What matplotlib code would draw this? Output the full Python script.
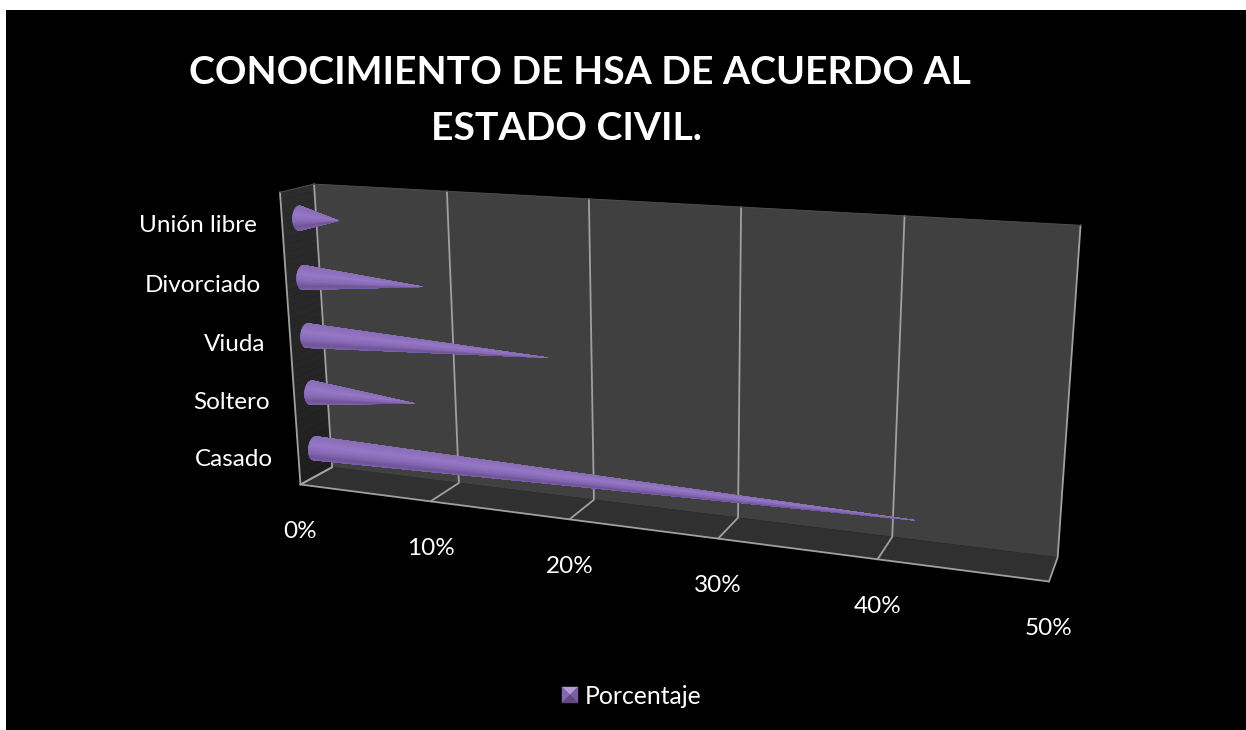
import numpy as np
import matplotlib
matplotlib.use("Agg")
import matplotlib.pyplot as plt
from matplotlib.collections import PolyCollection
from matplotlib.colors import LinearSegmentedColormap
from matplotlib.patches import Polygon, Rectangle

# ---- data -------------------------------------------------------------
categories = ["Casado", "Soltero", "Viuda", "Divorciado", "Unión libre"]
porcentaje = [41.7, 8.0, 17.8, 9.0, 3.0]
x_ticks = [0, 10, 20, 30, 40, 50]
title_lines = ["CONOCIMIENTO DE HSA DE ACUERDO AL", "ESTADO CIVIL."]
legend_label = "Porcentaje"

# ---- camera calibration: (value, height, depth) -> pixel ----------------
ANCHORS = [
    ((0, 0, 0), (332, 467)), ((50, 0, 0), (1058, 557)),
    ((50, 1, 0), (1081, 225)), ((0, 1, 0), (314, 184)),
    ((0, 0, 1), (300, 484)), ((0, 1, 1), (280, 192)),
    ((50, 0, 1), (1049, 581)),
    ((10, 1, 0), (447, 192)), ((20, 1, 0), (589, 199)),
    ((30, 1, 0), (741, 207)), ((40, 1, 0), (904, 216)),
    ((10, 0, 0), (459, 483)), ((40, 0, 0), (892, 537)),
    ((10, 0, 1), (431, 501)), ((20, 0, 1), (570, 520)),
    ((30, 0, 1), (718, 540)), ((40, 0, 1), (877, 559)),
]
rows = []
for (v, h, d), (px, py) in ANCHORS:
    X = [v / 50, h, d, 1]
    rows.append(X + [0, 0, 0, 0] + [-px * c for c in X])
    rows.append([0, 0, 0, 0] + X + [-py * c for c in X])
CAM = np.linalg.svd(np.array(rows, float))[2][-1].reshape(3, 4)


def project(v, h, d):
    v, h, d = np.broadcast_arrays(v, h, d)
    X = np.stack([v / 50, h, d, np.ones_like(v, dtype=float)], axis=-1)
    q = X @ CAM.T
    return np.stack([q[..., 0] / q[..., 2], q[..., 1] / q[..., 2]], axis=-1)


# ---- figure -------------------------------------------------------------
W, H = 1246, 730
plt.rcParams["font.family"] = ["Lato", "DejaVu Sans"]
fig = plt.figure(figsize=(W / 100, H / 100), dpi=100, facecolor="white")
ax = fig.add_axes([0, 0, 1, 1])
ax.set_xlim(0, W)
ax.set_ylim(H, 0)
ax.axis("off")
ax.add_patch(Rectangle((6, 10), W, H, fc="black", ec="none", zorder=0))

BACK = "#404040"
FLOOR = "#303030"
GRID = "#a0a0a0"
VMAX = x_ticks[-1]
LABEL_SIZE = 17.5


def quad(pts, color, z=1):
    ax.add_patch(Polygon(pts, closed=True, fc=color, ec=color, lw=0.3, zorder=z))


quad(project(np.array([0, VMAX, VMAX, 0]), np.array([0, 0, 1, 1]), 0), BACK)
# side wall darkens toward the floor
side_cmap = LinearSegmentedColormap.from_list(
    "side", [(0.0, "#1e1e1e"), (0.25, "#242424"), (1.0, "#2c2c2c")])
levels = np.linspace(0, 1, 41)
for a, b in zip(levels[:-1], levels[1:]):
    quad(project(0, np.array([a, b, b, a]), np.array([0, 0, 1, 1])),
         side_cmap((a + b) / 2))
quad(project(np.array([0, VMAX, VMAX, 0]), 0, np.array([0, 0, 1, 1])), FLOOR)


def line(pts, lw=1.3, z=2, color=GRID):
    ax.plot(pts[:, 0], pts[:, 1], color=color, lw=lw, zorder=z,
            solid_capstyle="round", solid_joinstyle="round")


for t in x_ticks:
    # gridline up the back wall and across the floor
    line(project(np.full(3, t), np.array([1, 0, 0]), np.array([0, 0, 1])))
# left wall front edge, floor edges
line(project(0, np.array([0, 1]), 1))
line(project(np.array([0, VMAX]), 0, 1))
line(project(0, 0, np.array([0, 1])))
# top edges are barely lighter than the walls
line(project(np.array([0, VMAX]), 1, 0), lw=0.8, color="#4a4a4a")
line(project(0, 1, np.array([0, 1])), lw=0.8, color="#4a4a4a")

for t in x_ticks:
    px, py = project(t, 0, 1)
    ax.text(px, py + 47, f"{t}%", color="white", fontsize=LABEL_SIZE,
            ha="center", va="center", zorder=5)

# ---- cones --------------------------------------------------------------
cone_cmap = LinearSegmentedColormap.from_list(
    "cone",
    [(0.0, "#8a6eb6"), (0.35, "#9678c8"), (0.6, "#8a6cb9"),
     (0.85, "#6f5598"), (1.0, "#7d62a8")],
)
R_H = 0.041      # cone base radius, wall-height units
R_D = 0.2        # same radius, depth units
MID = 0.5        # cones stand half-way through the depth
thetas = np.linspace(0, 2 * np.pi, 240, endpoint=False)

for i, (name, val) in enumerate(zip(categories, porcentaje)):
    h = (i + 0.5) / len(categories)
    tip = project(val, h, MID)
    rim = project(0, h + R_H * np.cos(thetas), MID + R_D * np.sin(thetas))
    next_rim = np.roll(rim, -1, axis=0)
    ys = rim[:, 1]
    shade = (ys - ys.min()) / (ys.max() - ys.min())
    order = np.argsort(np.sin(thetas))      # far side first
    polys = [np.array([tip, rim[k], next_rim[k]]) for k in order]
    cols = cone_cmap(shade[order])
    ax.add_collection(PolyCollection(polys, facecolors=cols, edgecolors=cols,
                                     linewidths=0.3, zorder=3))

    lx, ly = project(0, h, 1)
    ax.text(lx - 25, ly + 2.5, name, color="white", fontsize=LABEL_SIZE,
            ha="right", va="center", zorder=5)

# ---- title --------------------------------------------------------------
for txt, tx, ty in zip(title_lines, (580, 566), (73, 128)):
    ax.text(tx, ty, txt, color="white", fontsize=28.2, fontweight="bold",
            ha="center", va="center", zorder=5)

# ---- legend -------------------------------------------------------------
lx0, lx1, ly0, ly1 = 562, 578, 687, 703
cx, cy = (lx0 + lx1) / 2, (ly0 + ly1) / 2
for pts, col in [
    ([(lx0, ly0), (lx1, ly0), (cx, cy)], "#b49ad8"),
    ([(lx0, ly0), (lx0, ly1), (cx, cy)], "#8468ad"),
    ([(lx1, ly0), (lx1, ly1), (cx, cy)], "#7a5f9f"),
    ([(lx0, ly1), (lx1, ly1), (cx, cy)], "#5f4a82"),
]:
    quad(pts, col, z=5)
ax.text(585, 697, legend_label, color="white", fontsize=17.8,
        ha="left", va="center", zorder=5)

fig.savefig("out.png", dpi=100, facecolor="white")
